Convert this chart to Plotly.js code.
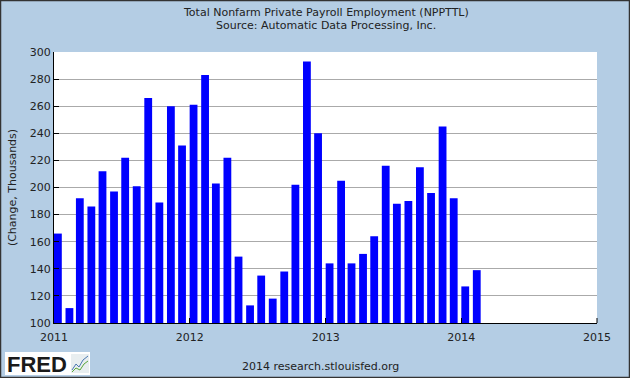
<!DOCTYPE html>
<html><head><meta charset="utf-8">
<script src="https://cdn.plot.ly/plotly-3.0.1.min.js"></script>
<style>html,body{margin:0;padding:0;}#chart{width:630px;height:378px;}</style>
</head><body><div id="chart"></div>
<script>
const months = ["2011-01-01","2011-02-01","2011-03-01","2011-04-01","2011-05-01","2011-06-01","2011-07-01","2011-08-01","2011-09-01","2011-10-01","2011-11-01","2011-12-01",
"2012-01-01","2012-02-01","2012-03-01","2012-04-01","2012-05-01","2012-06-01","2012-07-01","2012-08-01","2012-09-01","2012-10-01","2012-11-01","2012-12-01",
"2013-01-01","2013-02-01","2013-03-01","2013-04-01","2013-05-01","2013-06-01","2013-07-01","2013-08-01","2013-09-01","2013-10-01","2013-11-01","2013-12-01",
"2014-01-01","2014-02-01"];
const changeThousands = [166,111,192,186,212,197,222,201,266,189,260,231,
261,283,203,222,149,113,135,118,138,202,293,240,
144,205,144,151,164,216,188,190,215,196,245,192,
127,139];
const yTicks = [100,120,140,160,180,200,220,240,260,280,300];
const xTickVals = ["2011-01-01","2012-01-01","2013-01-01","2014-01-01","2015-01-01"];
const xTickText = ["2011","2012","2013","2014","2015"];
const titleLines = ["Total Nonfarm Private Payroll Employment (NPPTTL)", "Source: Automatic Data Processing, Inc."];
const footerText = "2014 research.stlouisfed.org";

const DAY = 86400000;
const font = {family: "DejaVu Sans", size: 11, color: "#222"};

// plot area in pixels: left 54, right 597, top 52, bottom 323
const L = 54, R = 597, T = 52, B = 323;
const px = p => (p - L) / (R - L);
const py = p => (B - p) / (B - T);

const trace = {
  type: "bar",
  x: months,
  y: changeThousands.map(v => v - 100),
  base: 100,
  marker: {color: "#0000FF", line: {width: 0}},
  width: months.map(() => 21 * DAY),
  offset: 0
};

const layout = {
  width: 630, height: 378,
  paper_bgcolor: "rgb(180,205,228)",
  plot_bgcolor: "#FFFFFF",
  margin: {l: L, r: 630 - R, t: T, b: 378 - B, pad: 0},
  font: font,
  showlegend: false,
  xaxis: {
    type: "date",
    range: ["2011-01-01", "2015-01-01"],
    tickvals: xTickVals,
    ticktext: xTickText,
    ticks: "inside", ticklen: 5, tickcolor: "#000", tickwidth: 1,
    ticklabelstandoff: 4,
    showgrid: false,
    showline: true, linecolor: "#000", linewidth: 1,
    zeroline: false,
    tickfont: font,
    fixedrange: true
  },
  yaxis: {
    range: [100, 300],
    tickvals: yTicks,
    ticks: "inside", ticklen: 5, tickcolor: "#000",
    showgrid: true, gridcolor: "#AAAAAA", gridwidth: 1,
    showline: true, linecolor: "#000", linewidth: 1,
    zeroline: false,
    tickfont: font,
    title: {text: "(Change, Thousands)", font: font, standoff: 10},
    fixedrange: true
  },
  shapes: [
    {type: "rect", xref: "paper", yref: "paper", x0: px(0.5), x1: px(629.5), y0: py(377.5), y1: py(0.5),
     line: {color: "#333", width: 1.5}, fillcolor: "rgba(0,0,0,0)"},
    {type: "line", xref: "paper", yref: "paper", x0: 1, x1: 1, y0: 0, y1: py(318), line: {color: "#000", width: 1}},
    // FRED logo box
    {type: "rect", xref: "paper", yref: "paper", x0: px(5), x1: px(90), y0: py(375), y1: py(352),
     line: {width: 0}, fillcolor: "#FFFFFF"},
    {type: "rect", xref: "paper", yref: "paper", x0: px(71), x1: px(89), y0: py(373), y1: py(354),
     line: {width: 0}, fillcolor: "#E8EEF0"},
    {type: "path", xref: "paper", yref: "paper",
     path: `M ${px(72)} ${py(370)} L ${px(76)} ${py(364)} L ${px(79)} ${py(367)} L ${px(83)} ${py(360)} L ${px(88)} ${py(356)}`,
     line: {color: "#4a78b0", width: 1}},
    {type: "path", xref: "paper", yref: "paper",
     path: `M ${px(72)} ${py(372)} L ${px(76)} ${py(368)} L ${px(80)} ${py(370)} L ${px(84)} ${py(364)} L ${px(88)} ${py(361)}`,
     line: {color: "#5aa83a", width: 1}}
  ],
  annotations: [
    {xref: "paper", yref: "paper", x: 0.5, y: py(12), xanchor: "center", yanchor: "middle",
     text: titleLines[0], showarrow: false, font: font},
    {xref: "paper", yref: "paper", x: 0.5, y: py(25), xanchor: "center", yanchor: "middle",
     text: titleLines[1], showarrow: false, font: font},
    {xref: "paper", yref: "paper", x: px(5), y: py(364), xanchor: "left", yanchor: "middle",
     text: "<b>FRED</b>", showarrow: false,
     font: {family: "Liberation Sans", size: 22, color: "#1a1a1a"}},
    {xref: "paper", yref: "paper", x: px(320), y: py(366), xanchor: "center", yanchor: "middle",
     text: footerText, showarrow: false, font: font}
  ]
};

Plotly.newPlot("chart", [trace], layout, {displayModeBar: false, staticPlot: true});
</script>
</body></html>
